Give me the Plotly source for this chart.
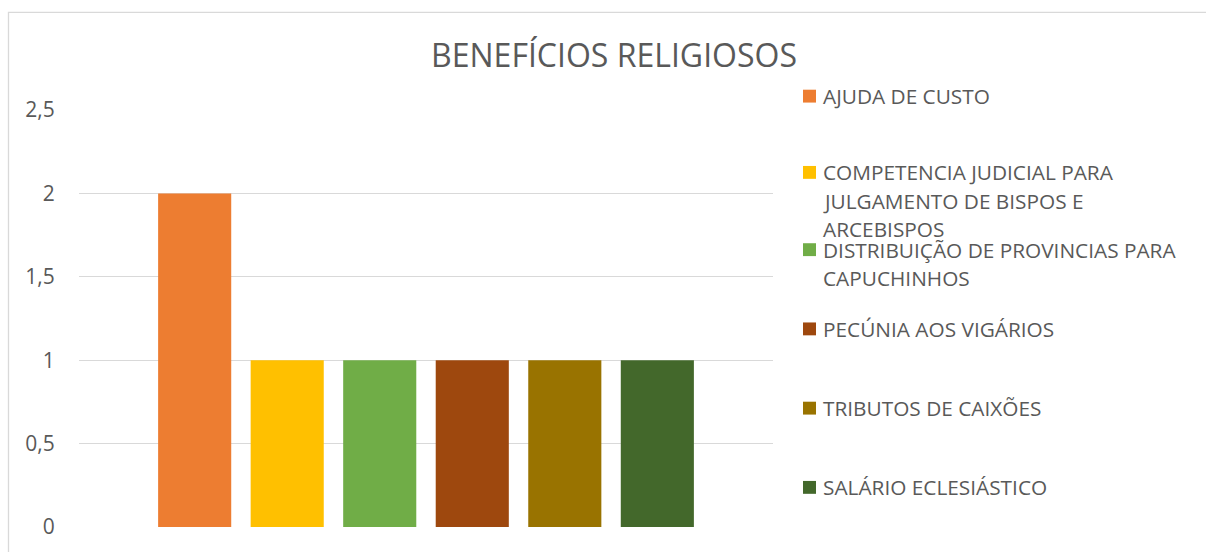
import textwrap
import plotly.graph_objects as go

# ---- data ----
title_text = "BENEFÍCIOS RELIGIOSOS"
series_names = [
    "AJUDA DE CUSTO",
    "COMPETENCIA JUDICIAL PARA JULGAMENTO DE BISPOS E ARCEBISPOS",
    "DISTRIBUIÇÃO DE PROVINCIAS PARA CAPUCHINHOS",
    "PECÚNIA AOS VIGÁRIOS",
    "TRIBUTOS DE CAIXÕES",
    "SALÁRIO ECLESIÁSTICO",
]
series_values = [2, 1, 1, 1, 1, 1]
series_colors = ["#ED7D31", "#FFC000", "#70AD47", "#9E480E", "#997300", "#43682B"]
y_ticks = [0, 0.5, 1, 1.5, 2, 2.5]

# ---- layout geometry (pixels) ----
W, H = 1206, 552
PL, PR, PT, PB = 79, 773, 110, 531
pw, ph = PR - PL, PB - PT


def px_x(x):
    return (x - PL) / pw


def px_y(y):
    return (PB - y) / ph


TEXT = "#595959"
FONT = "Open Sans"

fig = go.Figure()
for name, val, col in zip(series_names, series_values, series_colors):
    fig.add_trace(go.Bar(x=[""], y=[val], name=name, marker_color=col,
                         marker_line_width=0, showlegend=False))

shapes = []
annotations = []
# outer chart border (left and top visible)
shapes.append(dict(type="rect", xref="paper", yref="paper",
                   x0=px_x(8.5), x1=px_x(1230), y0=px_y(11.5), y1=px_y(580),
                   line=dict(color="#D9D9D9", width=1.3), fillcolor="rgba(0,0,0,0)",
                   layer="below"))

# legend built from series names
item_y = [96, 173, 251, 331, 411, 491]
line_h = 28.5
for name, col, yc in zip(series_names, series_colors, item_y):
    shapes.append(dict(type="rect", xref="paper", yref="paper",
                       x0=px_x(803), x1=px_x(816), y0=px_y(yc + 6.5), y1=px_y(yc - 6.5),
                       line=dict(width=0), fillcolor=col))
    for i, ln in enumerate(textwrap.wrap(name, 31)):
        annotations.append(dict(xref="paper", yref="paper", x=px_x(821),
                                y=px_y(yc + i * line_h), xanchor="left", yanchor="middle",
                                text=ln, showarrow=False,
                                font=dict(family=FONT, size=20.8, color=TEXT)))

fig.update_layout(
    width=W, height=H,
    margin=dict(l=PL, r=W - PR, t=PT, b=H - PB, pad=0),
    paper_bgcolor="white", plot_bgcolor="white",
    separators=",.",
    barmode="group", bargap=0.2, bargroupgap=0.21,
    title=dict(text=title_text, xref="container", x=614 / W, xanchor="center",
               yref="container", y=1 - 56 / H, yanchor="middle",
               font=dict(family=FONT, size=32, color=TEXT)),
    xaxis=dict(showticklabels=False, showgrid=False, zeroline=False, showline=False,
               ticks=""),
    yaxis=dict(range=[0, 2.5], tickvals=y_ticks, showgrid=True, gridcolor="#D9D9D9",
               gridwidth=1.3, zeroline=False, showline=False, ticks="outside",
               ticklen=19, tickcolor="rgba(0,0,0,0)",
               tickfont=dict(family=FONT, size=21, color=TEXT)),
    shapes=shapes, annotations=annotations,
)

fig.write_html(
    "out.html",
    config={"displayModeBar": False},
    post_script="document.body.style.margin='0';document.body.style.overflow='hidden';",
)
